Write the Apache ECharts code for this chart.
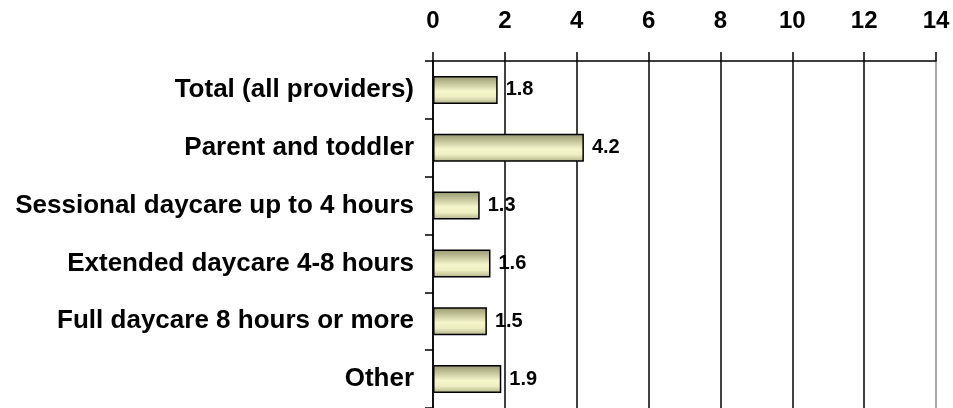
<!DOCTYPE html>
<html>
<head>
<meta charset="utf-8">
<script src="https://cdn.jsdelivr.net/npm/echarts@6/dist/echarts.min.js"></script>
<style>
  html, body { margin: 0; padding: 0; background: #fff; }
  #main { width: 953px; height: 408px; }
</style>
</head>
<body>
<div id="main"></div>
<script>
const categories = [
  'Total (all providers)',
  'Parent and toddler',
  'Sessional daycare up to 4 hours',
  'Extended daycare 4-8 hours',
  'Full daycare 8 hours or more',
  'Other',
];
const values = [1.8, 4.2, 1.3, 1.6, 1.5, 1.9];
const axisMin = 0;
const axisMax = 14;
const axisStep = 2;

const chart = echarts.init(document.getElementById('main'), null, { renderer: 'canvas' });
chart.setOption({
  backgroundColor: '#fff',
  animation: false,
  textStyle: { fontFamily: '"Liberation Sans", Arial, sans-serif' },
  grid: {
    left: 433,
    right: 17,
    top: 61,
    bottom: 0,
    outerBoundsMode: 'none',
  },
  xAxis: {
    type: 'value',
    position: 'top',
    min: axisMin,
    max: axisMax,
    interval: axisStep,
    axisLine: { show: true, lineStyle: { color: '#000', width: 1.5 } },
    axisTick: { show: true, length: 9, lineStyle: { color: '#000', width: 1.5 } },
    axisLabel: {
      margin: 28,
      color: '#000',
      fontWeight: 'bold',
      fontSize: 24,
    },
    splitLine: {
      show: true,
      lineStyle: {
        // last line (14) is drawn lighter in the original
        color: ['#000', '#000', '#000', '#000', '#000', '#000', '#000', '#8c8c8c'],
        width: 1.5,
      },
    },
  },
  yAxis: {
    type: 'category',
    inverse: true,
    data: categories,
    axisLine: { show: true, lineStyle: { color: '#000', width: 1.5 } },
    axisTick: { show: true, length: 8, lineStyle: { color: '#000', width: 1.5 } },
    axisLabel: {
      margin: 19,
      color: '#000',
      fontWeight: 'bold',
      fontSize: 26,
    },
  },
  series: [
    {
      type: 'bar',
      data: values,
      barWidth: 28,
      itemStyle: {
        color: new echarts.graphic.LinearGradient(0, 0, 0, 1, [
          { offset: 0, color: '#96966e' },
          { offset: 0.55, color: '#f6f6cc' },
          { offset: 0.75, color: '#eeeec2' },
          { offset: 1, color: '#b0b088' },
        ]),
        borderColor: '#000',
        borderWidth: 1.5,
      },
      label: {
        show: true,
        position: 'right',
        distance: 8,
        color: '#000',
        fontWeight: 'bold',
        fontSize: 20,
      },
    },
  ],
});
</script>
</body>
</html>
